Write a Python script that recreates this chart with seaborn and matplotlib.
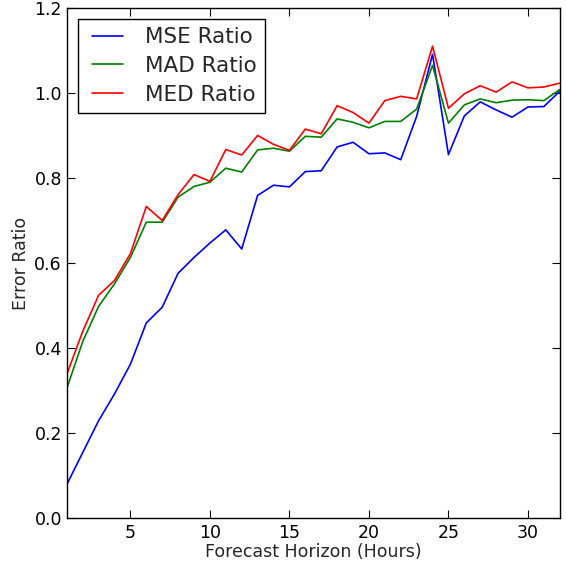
import numpy as np
import pandas as pd
import seaborn as sns
import matplotlib
matplotlib.use("Agg")
import matplotlib.pyplot as plt
from matplotlib.legend_handler import HandlerLine2D
from matplotlib.lines import Line2D

# forecast horizon in hours
hours = list(range(1, 33))

mse_ratio = [0.079, 0.154, 0.229, 0.292, 0.362, 0.459, 0.496, 0.576, 0.613, 0.647,
             0.678, 0.633, 0.759, 0.783, 0.779, 0.815, 0.817, 0.873, 0.884, 0.857,
             0.859, 0.843, 0.945, 1.091, 0.855, 0.946, 0.979, 0.960, 0.943, 0.967,
             0.968, 1.004]
mad_ratio = [0.305, 0.415, 0.498, 0.551, 0.613, 0.696, 0.696, 0.755, 0.780, 0.790,
             0.823, 0.814, 0.866, 0.870, 0.863, 0.898, 0.896, 0.939, 0.931, 0.918,
             0.933, 0.933, 0.962, 1.065, 0.929, 0.972, 0.986, 0.977, 0.983, 0.984,
             0.982, 1.008]
med_ratio = [0.338, 0.439, 0.524, 0.559, 0.622, 0.733, 0.700, 0.761, 0.808, 0.792,
             0.867, 0.854, 0.900, 0.879, 0.865, 0.915, 0.904, 0.970, 0.954, 0.929,
             0.982, 0.992, 0.986, 1.110, 0.964, 0.998, 1.017, 1.002, 1.026, 1.012,
             1.014, 1.023]

series_names = ["MSE Ratio", "MAD Ratio", "MED Ratio"]
colors = ["#0000ff", "#008000", "#ff0000"]

df = pd.DataFrame({
    "hour": hours * 3,
    "ratio": mse_ratio + mad_ratio + med_ratio,
    "series": [n for n in series_names for _ in hours],
})

sns.set_style("white")
plt.rcParams["font.family"] = ["DejaVu Sans"]
plt.rcParams["xtick.direction"] = "in"
plt.rcParams["ytick.direction"] = "in"

fig = plt.figure(figsize=(5.66, 5.65), dpi=100)
ax = fig.add_axes([0.118, 0.083, 0.871, 0.903])

sns.lineplot(data=df, x="hour", y="ratio", hue="series", palette=colors,
             hue_order=series_names, linewidth=1.2, ax=ax)

ax.set_xlim(1, 32)
ax.set_ylim(0, 1.2)
ax.set_xticks([5, 10, 15, 20, 25, 30])
ax.set_yticks(np.arange(0, 1.21, 0.2))
ax.set_yticklabels([f"{v:.1f}" for v in np.arange(0, 1.21, 0.2)])
ax.tick_params(axis="both", which="both", direction="in", length=6, width=0.8,
               top=True, right=True, bottom=True, left=True, labelsize=12.5,
               colors="black")
ax.tick_params(axis="x", pad=4)
ax.tick_params(axis="y", pad=3.5)
for sp in ax.spines.values():
    sp.set_color("black")
    sp.set_linewidth(1.0)

ax.set_xlabel("Forecast Horizon (Hours)", fontsize=12.5, labelpad=1)
ax.set_ylabel("Error Ratio", fontsize=12.5, labelpad=3)

# old-style legend: handle line indented a little inside its box
handles, labels = ax.get_legend_handles_labels()
leg = ax.legend(handles, labels, loc="upper left", fontsize=15.5,
                handlelength=1.72, handletextpad=1.0, labelspacing=0.4,
                borderaxespad=0.5, fancybox=False, framealpha=1,
                handler_map={Line2D: HandlerLine2D(xpad=0.28)})
leg.get_frame().set_edgecolor("black")
leg.get_frame().set_linewidth(1.0)

fig.savefig("out.png", dpi=100)
